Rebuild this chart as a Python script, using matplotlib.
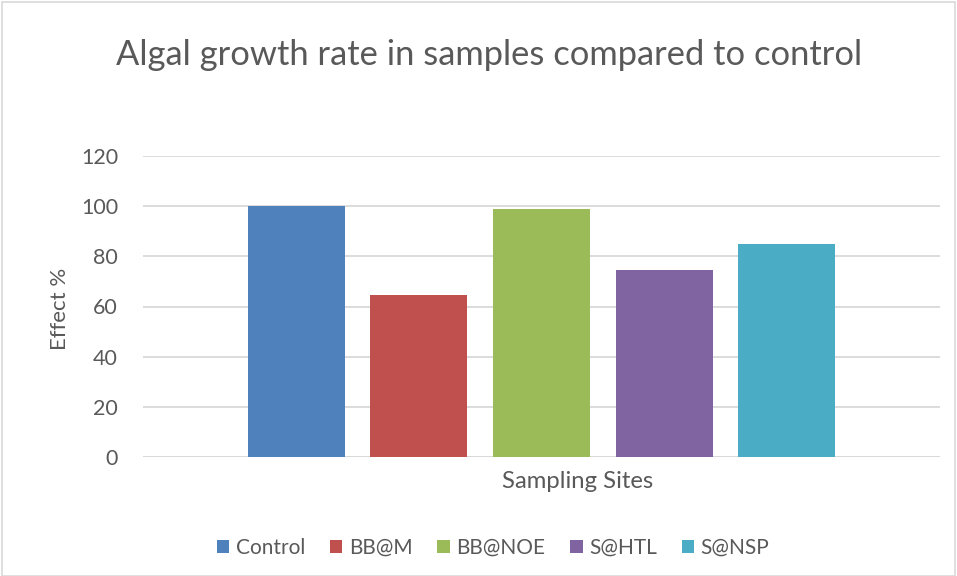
import matplotlib.pyplot as plt
from matplotlib.patches import Rectangle

# data
sites = ['Control', 'BB@M', 'BB@NOE', 'S@HTL', 'S@NSP']
effect = [100, 64.4, 98.8, 74.4, 84.8]
colors = ['#4f81bd', '#c0504d', '#9bbb59', '#8064a2', '#4bacc6']
yticks = [0, 20, 40, 60, 80, 100, 120]

plt.rcParams['font.family'] = ['Lato', 'DejaVu Sans']
grey = '#595959'

fig = plt.figure(figsize=(9.57, 5.76), dpi=100)
ax = fig.add_axes([143/957, 1-457/576, (940-143)/957, (457-156)/576])

x = list(range(len(sites)))
for i in x:
    ax.bar(i, effect[i], width=0.79, color=colors[i], label=sites[i], zorder=3)

ax.set_xlim(-1.248, 5.248)
ax.set_ylim(0, 120)
ax.set_yticks(yticks)
ax.set_xticks([])
ax.grid(axis='y', color='#d9d9d9', linewidth=1.3, zorder=0)
for s in ['top', 'right', 'left', 'bottom']:
    ax.spines[s].set_visible(False)
ax.axhline(0, color='#d9d9d9', linewidth=1.3, zorder=1)
ax.tick_params(axis='y', length=0, pad=18, labelsize=15.5, labelcolor=grey)

fig.text(489/957, 1-55/576, 'Algal growth rate in samples compared to control',
         ha='center', va='center', fontsize=24.8, color=grey)
fig.text(578/957, 1-481/576, 'Sampling Sites', ha='center', va='center',
         fontsize=17.2, color=grey)
fig.text(60/957, 1-309/576, 'Effect %', ha='center', va='center',
         rotation=90, fontsize=16, color=grey)

fig.legend(loc='center', bbox_to_anchor=(493/957, 1-548/576), ncol=5,
           frameon=False, fontsize=15, labelcolor=grey, handlelength=0.6,
           handleheight=0.6, handletextpad=0.3, columnspacing=1.2)

fig.patches.append(Rectangle((0.002, 0.0), 0.996, 0.996, transform=fig.transFigure,
                             fill=False, edgecolor='#d9d9d9', linewidth=1.2))

fig.savefig('out.png', dpi=100)
